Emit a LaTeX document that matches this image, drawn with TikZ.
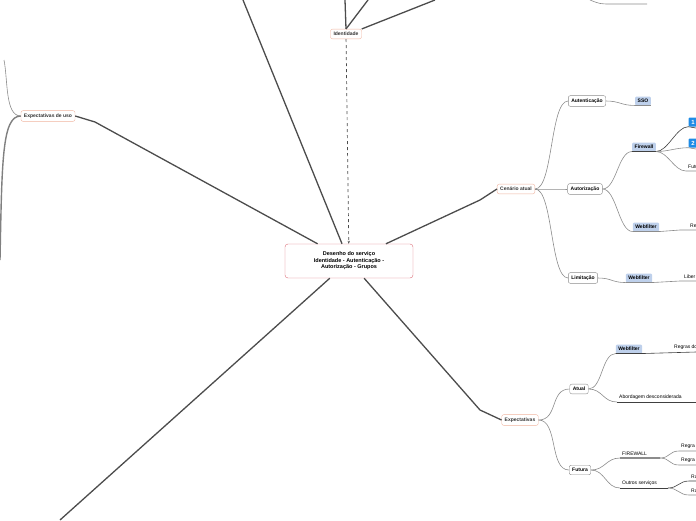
\documentclass[tikz,border=0pt]{standalone}
\usepackage{fontspec}
\setmainfont{Liberation Sans}
\usetikzlibrary{positioning, arrows.meta}
\definecolor{topicline}{RGB}{240,180,160}
\definecolor{rootline}{RGB}{220,110,120}
\definecolor{tagfill}{RGB}{190,208,235}
\definecolor{iconblue}{RGB}{30,140,230}
\begin{document}
\begin{tikzpicture}[x=1pt, y=-1pt,
        main/.style={draw=topicline, rounded corners=2pt, fill=white, font=\fontsize{5}{6}\selectfont\bfseries, text=black!80, inner sep=3pt},
        sub/.style={draw=black!45, rounded corners=2pt, fill=white, font=\fontsize{5}{6}\selectfont\bfseries, inner sep=3pt},
        tag/.style={fill=tagfill, rounded corners=1pt, font=\fontsize{5}{6}\selectfont\bfseries, inner sep=2.5pt},
        leaf/.style={font=\fontsize{5}{6}\selectfont, inner sep=2pt, anchor=south west},
        thick link/.style={draw=black!70, line width=1.3pt},
        link/.style={draw=black!45, line width=0.6pt}]
        \useasboundingbox (0,0) rectangle (696,520);
        % root
        \node (root) at (349,261) [draw=rootline, rounded corners=3pt, fill=white, align=center, font=\fontsize{5.5}{6.5}\selectfont\bfseries, minimum width=128pt, minimum height=34pt] {Desenho do serviço\\Identidade - Autenticação -\\Autorização - Grupos};
        \node (ident) at (346,34) [main] {Identidade};
        \node (uso) at (48,116) [main] {Expectativas de uso};
        \node (cen) at (516,189) [main] {Cenário atual};
        \node (exp) at (520,420) [main] {Expectativas};
        \coordinate (tl) at (243,0);
        \coordinate (bl) at (60,520);
        % main links
        \draw[thick link] (root) -- (tl);
        \draw[thick link] (root) -- (bl);
        \draw[thick link] (root) -- (95,122) -- (uso.east);
        \draw[thick link] (root) -- (480,200) -- (cen.west);
        \draw[thick link] (root) -- (480,410) -- (exp.west);
        \draw[black!70, line width=0.7pt, dashed, -{Stealth[length=3pt]}] (ident) -- (root);
        \draw[thick link] (ident.north) -- (345,0);
        \draw[thick link] (ident.north) -- (368,0);
        \draw[thick link] (ident.north east) -- (435,0);
        % left side
        \draw[link] (uso.west) .. controls (5,116) and (8,80) .. (4,60);
        \draw[black!50, line width=1.4pt] (uso.west) .. controls (2,116) and (2,160) .. (0,260);
        % top right fragment
        \draw[link] (590,0) .. controls (600,4) .. (612,4) -- (647,4);
        % cenario atual
        \node (autent) at (587,101) [sub] {Autenticação};
        \node (autor) at (585,189) [sub] {Autorização};
        \node (limit) at (583,278) [sub] {Limitação};
        \node (sso) at (643,101) [tag] {SSO};
        \node (fw) at (644,147) [tag] {Firewall};
        \node (wf1) at (646,227) [tag] {Webfilter};
        \node (wf2) at (639,278) [tag] {Webfilter};
        \foreach \t in {autent, autor, limit}
            \draw[link] (cen.east) .. controls +(18,0) and +(-18,0) .. (\t.west);
        \draw[link] (autent.east) .. controls +(14,0) and +(-14,0) .. (sso.south west) -- (sso.south east);
        \draw[link] (autor.east) .. controls +(14,0) and +(-14,0) .. (fw.south west);
        \draw[link] (autor.east) .. controls +(14,0) and +(-14,0) .. (wf1.south west);
        \draw[link] (limit.east) .. controls +(14,0) and +(-14,0) .. (wf2.south west);
        \node (one) at (693,122) [fill=iconblue, rounded corners=1pt, text=white, font=\fontsize{6}{7}\selectfont\bfseries, minimum size=9pt, inner sep=1pt] {1};
        \node (two) at (693,143) [fill=iconblue, rounded corners=1pt, text=white, font=\fontsize{6}{7}\selectfont\bfseries, minimum size=9pt, inner sep=1pt] {2};
        \node (futu) at (686,171) [leaf] {Futu};
        \node (re) at (688,230) [leaf] {Re};
        \node (liber) at (682,281) [leaf] {Liber};
        \draw[black!75, line width=0.6pt] (fw.south west) -- (fw.south east) .. controls +(12,0) and +(-12,0) .. (one.south west) -- (696,128);
        \draw[link] (fw.south east) .. controls +(12,0) and +(-12,0) .. (two.south west) -- (696,149);
        \draw[link] (fw.south east) .. controls +(12,0) and +(-12,0) .. (futu.south west) -- (696,171);
        \draw[link] (wf1.south west) -- (wf1.south east) -- (680,230) -- (696,230);
        \draw[link] (wf2.south west) -- (wf2.south east) -- (680,281) -- (696,281);
        % expectativas
        \node (atual) at (579,389) [sub] {Atual};
        \node (futura) at (580,470) [sub] {Futura};
        \node (wf3) at (629,349) [tag] {Webfilter};
        \node (regdo) at (672,352) [leaf] {Regras do};
        \node (abord) at (617,402) [leaf] {Abordagem desconsiderada};
        \node (fire) at (620,458) [leaf] {FIREWALL};
        \node (outros) at (620,488) [leaf] {Outros serviços};
        \node (rg1) at (679,451) [leaf] {Regra};
        \node (rg2) at (679,465) [leaf] {Regra};
        \node (ra1) at (689,481) [leaf] {Ra};
        \node (ra2) at (689,495) [leaf] {Ra};
        \draw[link] (exp.east) .. controls +(20,0) and +(-20,0) .. (atual.west);
        \draw[link] (exp.east) .. controls +(20,0) and +(-20,0) .. (futura.west);
        \draw[link] (atual.east) .. controls +(14,0) and +(-14,0) .. (wf3.south west);
        \draw[black!75, line width=0.6pt] (wf3.south west) -- (wf3.south east) -- (696,352);
        \draw[link] (atual.east) .. controls +(14,0) and +(-14,0) .. (abord.south west);
        \draw[black!75, line width=0.6pt] (abord.south west) -- (696,402);
        \draw[link] (futura.east) .. controls +(14,0) and +(-14,0) .. (fire.south west);
        \draw[black!45, line width=1.2pt] (fire.south west) -- (660,458);
        \draw[link] (660,458) .. controls +(10,0) and +(-10,0) .. (rg1.south west) -- (696,451);
        \draw[link] (660,458) .. controls +(10,0) and +(-10,0) .. (rg2.south west) -- (696,465);
        \draw[link] (futura.east) .. controls +(14,0) and +(-14,0) .. (outros.south west);
        \draw[black!75, line width=0.6pt] (outros.south west) -- (668,488);
        \draw[black!75, line width=0.6pt] (668,488) .. controls +(10,0) and +(-10,0) .. (ra1.south west) -- (696,481);
        \draw[link] (668,488) .. controls +(10,0) and +(-10,0) .. (ra2.south west) -- (696,495);
\end{tikzpicture}
\end{document}
